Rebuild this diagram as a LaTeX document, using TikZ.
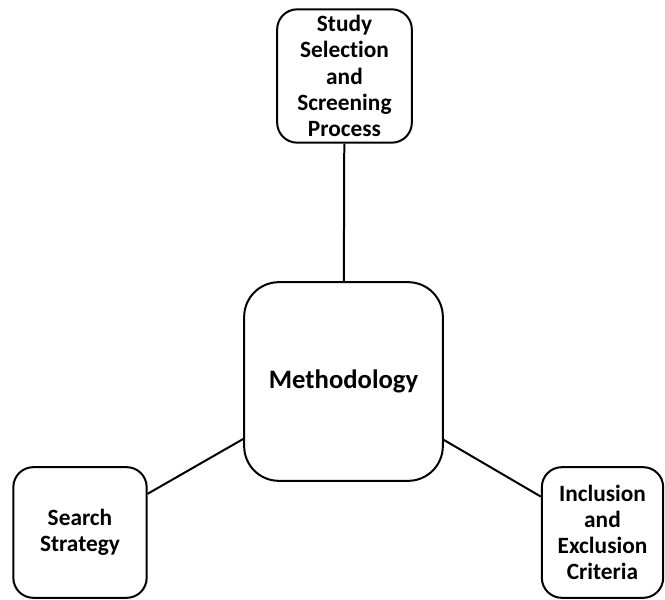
\documentclass[tikz,border=0pt]{standalone}
\usepackage{fontspec}
\setmainfont{Carlito}[Ligatures=NoCommon]

\begin{document}
\begin{tikzpicture}[x=0.75pt, y=-0.75pt,
  topic/.style={draw=black, line width=1.5pt, rounded corners=15pt, align=center,
    inner sep=0pt, font=\bfseries\fontsize{17.5}{19.6}\selectfont},
  hub/.style={topic, rounded corners=26pt, font=\bfseries\fontsize{20}{24}\selectfont},
  link/.style={line width=1.5pt}]
\useasboundingbox (0,0) rectangle (665,600);
% centre and the three parts
\node[hub, minimum width=149pt, minimum height=149pt] (method) at (343.5,381.5) {Methodology};
\node[topic, minimum width=101pt, minimum height=100pt] (study) at (344.5,76) {Study\\Selection\\and\\Screening\\Process};
\node[topic, minimum width=100pt, minimum height=98pt] (search) at (80,532.5) {Search\\Strategy};
\node[topic, minimum width=91pt, minimum height=98pt] (incl) at (602.5,532.5) {Inclusion\\and\\Exclusion\\Criteria};
% links
\draw[link] (method) -- (study);
\draw[link] (method) -- (search);
\draw[link] (method) -- (incl);
\end{tikzpicture}
\end{document}
